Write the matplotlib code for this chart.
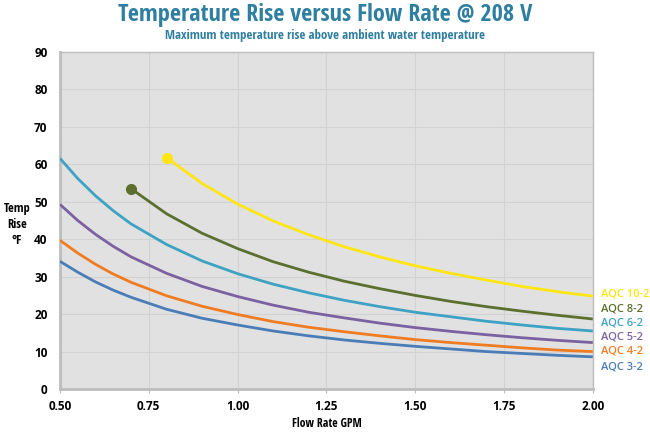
import matplotlib
matplotlib.use("Agg")
import matplotlib.pyplot as plt

# flow rate (GPM) samples
flow = [0.5, 0.55, 0.6, 0.65, 0.7, 0.8, 0.9, 1.0, 1.1, 1.2, 1.3, 1.4, 1.5, 1.6, 1.7, 1.8, 1.9, 2.0]

# temperature rise (°F)
aqc_3_2 = [34.1, 31.2, 28.6, 26.4, 24.5, 21.3, 18.9, 17.1, 15.5, 14.2, 13.1, 12.2, 11.4, 10.7, 10.0, 9.5, 9.0, 8.6]
aqc_4_2 = [39.7, 36.3, 33.3, 30.7, 28.5, 24.9, 22.1, 19.9, 18.0, 16.5, 15.3, 14.2, 13.2, 12.4, 11.7, 11.0, 10.4, 10.0]
aqc_5_2 = [49.3, 45.0, 41.3, 38.1, 35.3, 30.9, 27.4, 24.7, 22.4, 20.5, 19.0, 17.6, 16.4, 15.4, 14.5, 13.7, 13.0, 12.4]
aqc_6_2 = [61.6, 56.2, 51.6, 47.6, 44.1, 38.6, 34.2, 30.8, 28.0, 25.7, 23.7, 22.0, 20.5, 19.3, 18.1, 17.1, 16.2, 15.5]
aqc_8_2 = [53.5, 46.8, 41.6, 37.5, 34.0, 31.2, 28.8, 26.8, 25.0, 23.4, 22.0, 20.8, 19.7, 18.7]
aqc_10_2 = [61.8, 54.9, 49.4, 44.9, 41.2, 38.0, 35.3, 32.9, 30.9, 29.1, 27.4, 26.0, 24.8]

series = [
    ("AQC 10-2", flow[5:], aqc_10_2, "#FFE512"),
    ("AQC 8-2", flow[4:], aqc_8_2, "#5C6F2F"),
    ("AQC 6-2", flow, aqc_6_2, "#3DA2C3"),
    ("AQC 5-2", flow, aqc_5_2, "#7A61A2"),
    ("AQC 4-2", flow, aqc_4_2, "#F07C22"),
    ("AQC 3-2", flow, aqc_3_2, "#4A7DB7"),
]
label_y = [25.4, 21.4, 17.6, 13.9, 10.1, 5.9]

title_color = "#2F7FA0"
cond = ["Open Sans Condensed", "DejaVu Sans"]
body = ["Open Sans", "DejaVu Sans"]

fig = plt.figure(figsize=(6.5, 4.32), dpi=100)
ax = fig.add_axes([0.0923, 0.0995, 0.8197, 0.7801])
ax.set_facecolor("#E1E1E1")

for (name, x, y, color), ly in zip(series, label_y):
    ax.plot(x, y, color=color, lw=2.0, solid_capstyle="butt", zorder=3)
    if x[0] > 0.5:
        ax.plot(x[0], y[0], "o", color=color, ms=7, zorder=4)
    ax.text(2.022, ly, name, color=color, fontsize=8, fontweight="semibold",
            family=body, va="center", ha="left", clip_on=False)

ax.set_xlim(0.5, 2.0)
ax.set_ylim(0, 90)
ax.set_xticks([0.5, 0.75, 1.0, 1.25, 1.5, 1.75, 2.0])
ax.set_xticklabels(["0.50", "0.75", "1.00", "1.25", "1.50", "1.75", "2.00"])
ax.set_yticks(range(0, 91, 10))
ax.grid(True, color="#D2D2D2", lw=0.8)
ax.set_axisbelow(True)
for s in ax.spines.values():
    s.set_color("#BDBDBD")
    s.set_linewidth(1.0)
ax.spines["left"].set_linewidth(2.0)
ax.spines["bottom"].set_linewidth(2.0)
ax.tick_params(axis="x", length=3, color="#BDBDBD", pad=5, labelsize=8.5)
ax.tick_params(axis="y", length=0, pad=9, labelsize=8.5)
for lab in ax.get_xticklabels() + ax.get_yticklabels():
    lab.set_fontweight("bold")
    lab.set_family(body)

ax.set_xlabel("Flow Rate GPM", fontsize=8.5, fontweight="bold", family=cond, labelpad=3)
fig.text(0.026, 0.48, "Temp\nRise\n°F", fontsize=9, fontweight="bold", family=cond,
         ha="center", va="center", linespacing=1.3)

fig.text(0.5, 0.966, "Temperature Rise versus Flow Rate @ 208 V", fontsize=17.5,
         fontweight="bold", family=cond, color=title_color, ha="center", va="center")
fig.text(0.5, 0.917, "Maximum temperature rise above ambient water temperature", fontsize=9.3,
         fontweight="bold", family=cond, color=title_color, ha="center", va="center")

fig.savefig("out.png", dpi=100)
